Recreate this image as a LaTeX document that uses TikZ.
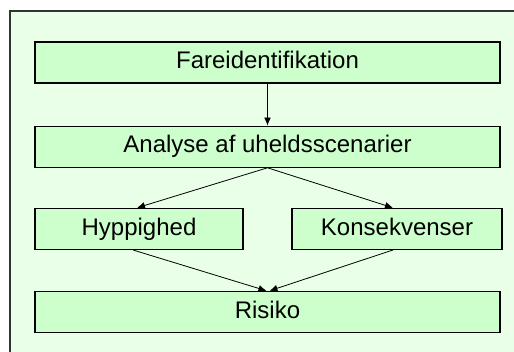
\documentclass[tikz,border=0pt]{standalone}
\usepackage{fontspec}
\setmainfont{Liberation Sans}
\usepackage{tikz}
\usetikzlibrary{positioning}
\usetikzlibrary{arrows.meta}
\definecolor{bggreen}{HTML}{EAFFE8}
\definecolor{boxgreen}{HTML}{CCFFCC}
\tikzset{
  -{Latex[length=4pt,width=3.4pt]},thin,
  stepbox/.style = {rectangle, draw=black, fill=boxgreen, line width=0.6pt,
   minimum height=20.5pt, inner sep=0pt, text height=8.8pt, text depth=2.6pt,
   font=\fontsize{12}{14}\selectfont},
  widebox/.style = {stepbox, minimum width=232.5pt},
  halfbox/.style = {stepbox, minimum width=104pt},
}

\begin{document}
\begin{tikzpicture}
  \useasboundingbox (0,0) rectangle (257pt,-176pt);
  \filldraw[-, fill=bggreen, draw=black!80, line width=0.6pt] (5pt,-5.5pt) rectangle (262pt,-182pt);
  \node (F) [widebox] at (133.75pt,-31.25pt) {Fareidentifikation};
  \node (A) [widebox, below = 21pt of F] {Analyse af uheldsscenarier};
  \node (H) [halfbox, below = 20pt of A.south west, anchor=north west] {Hyppighed};
  \node (K) [halfbox, minimum width=105pt, below = 20pt of A.south east, anchor=north east, xshift=1pt] {Konsekvenser};
  \node (R) [widebox, below = 20.5pt of A, yshift=-41pt] {Risiko};
  \draw (F) -- (A);
  \draw (A.south) -- ([xshift=-1pt]H.north);
  \draw (A.south) -- ([xshift=-2pt]K.north);
  \draw ([xshift=-3pt]H.south) -- ([xshift=-0.5pt]R.north);
  \draw ([xshift=-2pt]K.south) -- ([xshift=1pt]R.north);
\end{tikzpicture}
\end{document}
